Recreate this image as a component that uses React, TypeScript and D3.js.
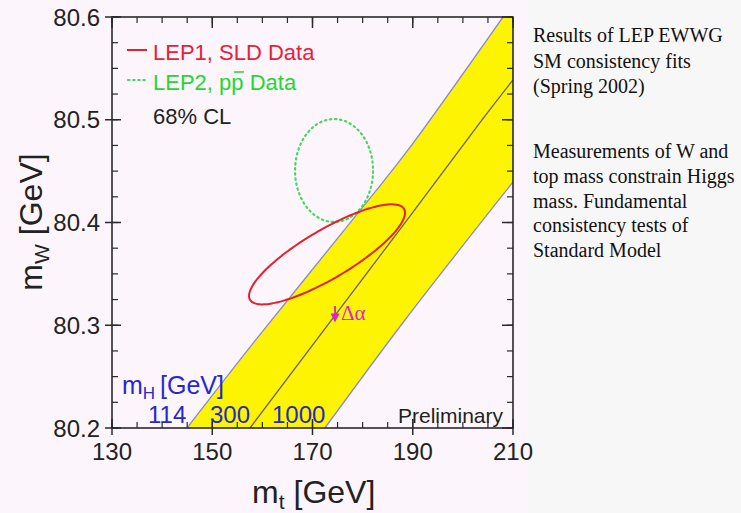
import React from "react";
import * as d3 from "d3";

// Axis ticks
const mtTicks = [130, 150, 170, 190, 210];
const mwTicks = [80.2, 80.3, 80.4, 80.5, 80.6];
const mtDomain = [130, 210];
const mwDomain = [80.2, 80.6];

// SM prediction lines [mt, mW] for the Higgs masses that bound the band
const higgsLabels = ["114", "300", "1000"];
const band114 = [
  [144.96, 80.2],
  [157.53, 80.2788],
  [180.87, 80.42],
  [189.05, 80.4706],
  [208.0, 80.6],
];
const band300 = [
  [157.53, 80.2],
  [188.85, 80.4024],
  [203.82, 80.4998],
  [210.0, 80.5387],
];
const band1000 = [
  [172.49, 80.2],
  [188.45, 80.3051],
  [210.0, 80.4394],
];

// 68% CL contours: centre [mt, mW], half-extents [mt, mW], correlation
const lep1Center = [172.9, 80.369];
const lep1Half = [15.56, 0.0487];
const lep1Rho = 0.83;
const lep2Center = [174.3, 80.4506];
const lep2Half = [7.78, 0.0501];
const lep2Rho = 0.0;

// Δα shift arrow [mt, mW] start / end
const dAlphaArrow = [
  [174.5, 80.3187],
  [174.5, 80.3045],
];

const legendLabels = ["LEP1, SLD Data", "LEP2, p", "68% CL"];
const notesTop = ["Results of LEP EWWG", "SM consistency fits", "(Spring 2002)"];
const notesBottom = [
  "Measurements of W and",
  "top mass constrain Higgs",
  "mass. Fundamental",
  "consistency tests of",
  "Standard Model",
];

const W = 741;
const H = 513;
const frame = { left: 112, right: 513, top: 17, bottom: 428 };
const SANS = "'Liberation Sans', Arial, Helvetica, sans-serif";
const SERIF = "'Liberation Serif', 'Times New Roman', serif";

function ellipsePoints(c: number[], h: number[], rho: number) {
  const s = Math.sqrt(1 - rho * rho);
  return d3.range(0, 360, 3).map((deg) => {
    const t = (deg * Math.PI) / 180;
    return [c[0] + h[0] * Math.cos(t), c[1] + h[1] * (rho * Math.cos(t) + s * Math.sin(t))];
  });
}

export default function App() {
  const x = d3.scaleLinear().domain(mtDomain).range([frame.left, frame.right]);
  const y = d3.scaleLinear().domain(mwDomain).range([frame.bottom, frame.top]);

  const line = d3
    .line<number[]>()
    .x((d) => x(d[0]))
    .y((d) => y(d[1]))
    .curve(d3.curveCatmullRom.alpha(0.5));

  const closed = d3
    .line<number[]>()
    .x((d) => x(d[0]))
    .y((d) => y(d[1]))
    .curve(d3.curveCardinalClosed);

  const lowerPath = line(band114) || "";
  const upperPath = line([...band1000].reverse()) || "";
  const bandPath =
    lowerPath +
    `L${x(mtDomain[1])},${y(mwDomain[1])}` +
    upperPath.replace(/^M/, "L") +
    "Z";

  const minorX = d3.range(0, 17).map((i) => 130 + i * 5);
  const minorY = d3.range(0, 17).map((i) => 80.2 + i * 0.025);

  const tickColor = "#2a2a2a";

  return (
    <svg
      width={W}
      height={H}
      viewBox={`0 0 ${W} ${H}`}
      style={{ position: "absolute", left: 0, top: 0 }}
    >
      <defs>
        <clipPath id="plotArea">
          <rect
            x={frame.left}
            y={frame.top}
            width={frame.right - frame.left}
            height={frame.bottom - frame.top}
          />
        </clipPath>
        <marker
          id="arrowHead"
          viewBox="0 0 10 10"
          refX="8"
          refY="5"
          markerWidth="5"
          markerHeight="5"
          orient="auto"
        >
          <path d="M0,0 L10,5 L0,10 Z" fill="#dd22cc" />
        </marker>
      </defs>

      <rect x={0} y={0} width={W} height={H} fill="#fcf6fc" />
      <rect x={527} y={0} width={W - 527} height={H} fill="#f8f7f8" />

      {/* SM band */}
      <g clipPath="url(#plotArea)">
        <path d={bandPath} fill="#fcf400" stroke="none" />
        <path d={lowerPath} fill="none" stroke="#8a88d8" strokeWidth={1.3} />
        <path d={line(band300) || ""} fill="none" stroke="#6e5c72" strokeWidth={1.3} />
        <path d={line(band1000) || ""} fill="none" stroke="#8a88d8" strokeWidth={1.3} />

        {/* contours */}
        <path
          d={closed(ellipsePoints(lep2Center, lep2Half, lep2Rho)) || ""}
          fill="none"
          stroke="#48d860"
          strokeWidth={2.2}
          strokeDasharray="1.5 3.6"
          strokeLinecap="round"
        />
        <path
          d={closed(ellipsePoints(lep1Center, lep1Half, lep1Rho)) || ""}
          fill="none"
          stroke="#e8202c"
          strokeWidth={2}
        />

        {/* Δα arrow */}
        <line
          x1={x(dAlphaArrow[0][0])}
          y1={y(dAlphaArrow[0][1])}
          x2={x(dAlphaArrow[1][0])}
          y2={y(dAlphaArrow[1][1])}
          stroke="#dd22cc"
          strokeWidth={1.8}
          markerEnd="url(#arrowHead)"
        />
      </g>
      <text x={341} y={320} fontFamily={SERIF} fontSize={21} fill="#dd22dd">
        Δα
      </text>

      {/* frame */}
      <rect
        x={frame.left}
        y={frame.top}
        width={frame.right - frame.left}
        height={frame.bottom - frame.top}
        fill="none"
        stroke={tickColor}
        strokeWidth={1.6}
      />

      {/* minor ticks */}
      <g stroke={tickColor} strokeWidth={1.2}>
        {minorX.map((v) => (
          <g key={`mx${v}`}>
            <line x1={x(v)} x2={x(v)} y1={frame.bottom} y2={frame.bottom - 6} />
            <line x1={x(v)} x2={x(v)} y1={frame.top} y2={frame.top + 6} />
          </g>
        ))}
        {minorY.map((v, i) => (
          <g key={`my${i}`}>
            <line x1={frame.left} x2={frame.left + 6} y1={y(v)} y2={y(v)} />
            <line x1={frame.right} x2={frame.right - 6} y1={y(v)} y2={y(v)} />
          </g>
        ))}
      </g>

      {/* major ticks and labels */}
      <g stroke={tickColor} strokeWidth={1.5}>
        {mtTicks.map((v) => (
          <g key={`Mx${v}`}>
            <line x1={x(v)} x2={x(v)} y1={frame.bottom + 7} y2={frame.bottom - 9} />
            <line x1={x(v)} x2={x(v)} y1={frame.top} y2={frame.top + 11} />
          </g>
        ))}
        {mwTicks.map((v) => (
          <g key={`My${v}`}>
            <line x1={frame.left - 7} x2={frame.left + 9} y1={y(v)} y2={y(v)} />
            <line x1={frame.right} x2={frame.right - 11} y1={y(v)} y2={y(v)} />
          </g>
        ))}
      </g>
      <g fontFamily={SANS} fontSize={24} fill="#222">
        {mtTicks.map((v) => (
          <text key={`lx${v}`} x={x(v)} y={460} textAnchor="middle">
            {d3.format("d")(v)}
          </text>
        ))}
        {mwTicks.map((v) => (
          <text key={`ly${v}`} x={100} y={y(v) + 8.5} textAnchor="end">
            {d3.format(".1f")(v)}
          </text>
        ))}
      </g>

      {/* axis titles */}
      <text x={252} y={503} fontFamily={SANS} fontSize={32} fill="#222">
        m
        <tspan fontSize={21} dy={6}>t</tspan>
        <tspan dy={-6} dx={9}>[GeV]</tspan>
      </text>
      <text
        transform="translate(42,222) rotate(-90)"
        textAnchor="middle"
        fontFamily={SANS}
        fontSize={32}
        fill="#222"
      >
        m
        <tspan fontSize={21} dy={7}>W</tspan>
        <tspan dy={-7} dx={9}>[GeV]</tspan>
      </text>

      {/* legend */}
      <line x1={127} x2={147} y1={50} y2={50} stroke="#e8202c" strokeWidth={2} />
      <line
        x1={128}
        x2={147}
        y1={80}
        y2={80}
        stroke="#48d860"
        strokeWidth={2.2}
        strokeDasharray="1.5 3.6"
        strokeLinecap="round"
      />
      <g fontFamily={SANS} fontSize={22}>
        <text x={153} y={60} fill="#e8203a">
          {legendLabels[0]}
        </text>
        <text x={153} y={90} fill="#22d830">
          {legendLabels[1]}
          <tspan>p</tspan>
          <tspan> Data</tspan>
        </text>
        <text x={153} y={124} fill="#222">
          {legendLabels[2]}
        </text>
      </g>
      {/* antiproton bar */}
      <line x1={234} x2={244} y1={72} y2={72} stroke="#22d830" strokeWidth={1.5} />

      {/* Higgs mass labels */}
      <g fontFamily={SANS} fill="#2828cc">
        <text x={122} y={394} fontSize={25}>
          m
          <tspan fontSize={17} dy={5}>H</tspan>
        </text>
        <text x={160} y={394} fontSize={25}>
          [GeV]
        </text>
        <text x={148} y={423} fontSize={24}>
          {higgsLabels[0]}
        </text>
        <text x={210} y={423} fontSize={24}>
          {higgsLabels[1]}
        </text>
        <text x={272} y={423} fontSize={24}>
          {higgsLabels[2]}
        </text>
      </g>
      <text x={503} y={423} textAnchor="end" fontFamily={SANS} fontSize={21} fill="#222">
        Preliminary
      </text>

      {/* notes */}
      <g fontFamily={SERIF} fontSize={20} fill="#111">
        {notesTop.map((s, i) => (
          <text key={s} x={533} y={42 + i * 25.5}>
            {s}
          </text>
        ))}
        {notesBottom.map((s, i) => (
          <text key={s} x={533} y={158 + i * 24.8}>
            {s}
          </text>
        ))}
      </g>
    </svg>
  );
}
